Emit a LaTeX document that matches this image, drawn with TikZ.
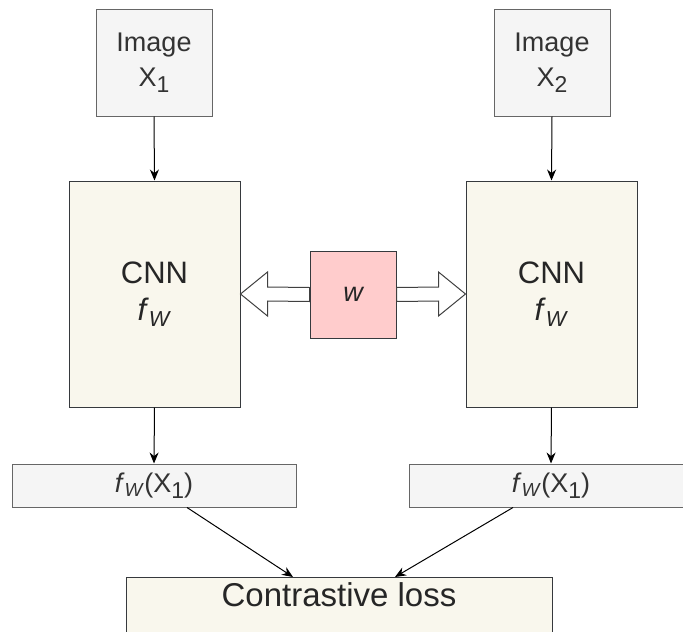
\documentclass[tikz,border=0pt]{standalone}
\usepackage{fontspec}
\setmainfont{Liberation Sans}
\usetikzlibrary{arrows.meta,positioning,calc}

\definecolor{grayfill}{HTML}{F5F5F5}
\definecolor{graydraw}{HTML}{666666}
\definecolor{graytext}{HTML}{333333}
\definecolor{creamfill}{HTML}{F9F7ED}
\definecolor{darkdraw}{HTML}{36393D}
\definecolor{pinkfill}{HTML}{FFCCCC}

\tikzset{
  inputbox/.style={draw=graydraw, fill=grayfill, text=graytext, line width=1pt,
    minimum width=116pt, minimum height=107pt, inner sep=0pt, align=center,
    font=\fontsize{27}{35}\selectfont},
  cnnbox/.style={draw=darkdraw, fill=creamfill, text=black!85, line width=1pt,
    minimum width=171pt, minimum height=226pt, inner sep=0pt, align=center,
    font=\fontsize{31}{37}\selectfont},
  weightbox/.style={draw=darkdraw, fill=pinkfill, text=black!85, line width=1pt,
    minimum width=86pt, minimum height=87pt, inner sep=0pt,
    font=\fontsize{27}{30}\selectfont\itshape},
  featbox/.style={draw=graydraw, fill=grayfill, text=graytext, line width=1pt,
    minimum width=284pt, minimum height=43pt, inner sep=0pt,
    font=\fontsize{27}{32}\selectfont},
  lossbox/.style={draw=darkdraw, fill=creamfill, text=black!85, line width=1pt,
    minimum width=426pt, inner xsep=0pt, inner ysep=0pt,
    text height=29pt, text depth=60pt, anchor=north,
    font=\fontsize{33}{38}\selectfont},
  flow/.style={draw=black, line width=1pt, -{Stealth[length=11pt,width=9pt]}},
  flexarrow/.style={draw=black!75, fill=white, line width=1pt, line join=miter},
}

% index digits: nearly full size, dropped below the baseline
\newcommand{\numsub}[1]{\raisebox{-0.22em}{\scalebox{0.85}{#1}}}
\newcommand{\fw}{\textit{f}\textsubscript{\textit{W}}}

\begin{document}
\begin{tikzpicture}[x=1pt, y=-1pt]
  \useasboundingbox (0,0) rectangle (683,632);
  \clip (0,0) rectangle (683,632);

  % inputs
  \node[inputbox] (img1) at (154,62.5) {Image\\X\numsub{1}};
  \node[inputbox] (img2) at (552,62.5) {Image\\X\numsub{2}};

  % twin networks
  \node[cnnbox] (cnn1) at (154.5,294) {CNN\\\fw};
  \node[cnnbox] (cnn2) at (551.5,294) {CNN\\\fw};

  % shared weights
  \node[weightbox] (w) at (353,294.5) {w};

  % feature vectors
  \node[featbox] (out1) at (154,485.5) {\fw(X\numsub{1})};
  \node[featbox] (out2) at (551,485.5) {\fw(X\numsub{1})};

  % loss
  \node[lossbox] (loss) at (339,577) {Contrastive loss};

  % weight sharing arrows
  \draw[flexarrow] (cnn1.east) -- ++(27,-22) -- ++(0,15)
    -- ([yshift=7pt]w.west) -- ([yshift=-7pt]w.west)
    -- ([xshift=27pt,yshift=-7pt]cnn1.east) -- ([xshift=27pt,yshift=-22pt]cnn1.east) -- cycle;
  \draw[flexarrow] (cnn2.west) -- ++(-27,-22) -- ++(0,15)
    -- ([yshift=7pt]w.east) -- ([yshift=-7pt]w.east)
    -- ([xshift=-27pt,yshift=-7pt]cnn2.west) -- ([xshift=-27pt,yshift=-22pt]cnn2.west) -- cycle;

  % data flow
  \draw[flow] (img1.south) -- (cnn1.north);
  \draw[flow] (img2.south) -- (cnn2.north);
  \draw[flow] (cnn1.south) -- (out1.north);
  \draw[flow] (cnn2.south) -- (out2.north);
  \draw[flow] ([xshift=33pt]out1.south) -- ([xshift=-46pt]loss.north);
  \draw[flow] ([xshift=-38pt]out2.south) -- ([xshift=56pt]loss.north);
\end{tikzpicture}
\end{document}
